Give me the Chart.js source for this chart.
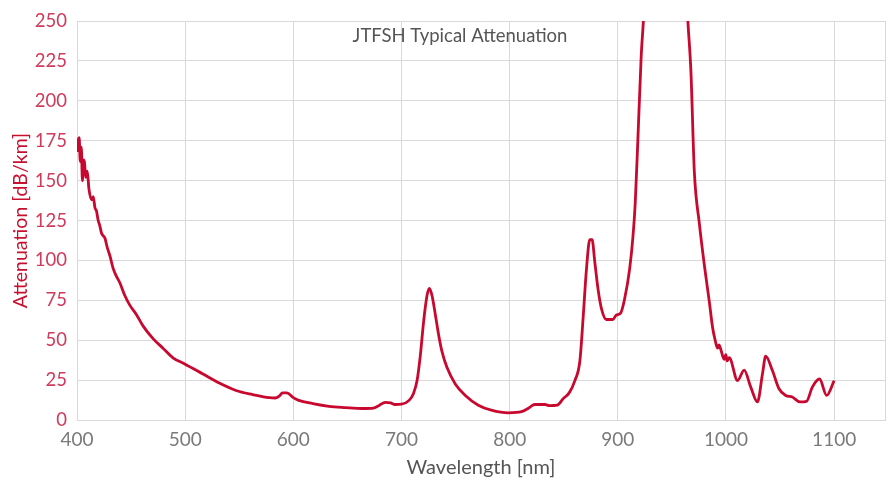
<!DOCTYPE html>
<html>
<head>
<meta charset="utf-8">
<script src="https://cdn.jsdelivr.net/npm/chart.js@4/dist/chart.umd.min.js"></script>
<style>
  html, body { margin: 0; padding: 0; background: #ffffff; }
  #wrap { width: 893px; height: 480px; position: relative; }
</style>
</head>
<body>
<div id="wrap"><canvas id="attenuationChart"></canvas></div>
<script>
/* ============================================
   DATA
   ============================================ */
const chartTitle = 'JTFSH Typical Attenuation';

// Wavelength [nm]
const wavelength = [
  400, 401, 402, 403, 404, 405, 406, 407, 408, 409.5,
  411, 413.5, 415, 416.6, 418, 419.6, 421, 422.7, 425.8, 428,
  430.4, 433.4, 436.5, 439.6, 444.2, 448.8, 455, 461, 470.3, 479.5,
  488.7, 500, 516, 532, 547, 562, 578, 583, 587, 590,
  594, 600, 605, 618, 633, 648, 664, 674, 679, 685,
  690, 694, 700, 707, 711, 714.4, 717.5, 720.5, 723.6, 725.8,
  728.2, 731.3, 734.3, 737.4, 742, 749.7, 759, 771, 783, 799,
  811, 817, 823, 832.6, 837, 844, 849.5, 855, 860.3, 864.9,
  867.9, 871, 874.1, 876.2, 878.7, 881.7, 884.8, 889.4, 895.5, 898.6,
  902.6, 906.3, 910.9, 914, 916.1, 918.6, 921.6, 924, 928, 935,
  945, 955, 962, 964.6, 967.6, 970.7, 975.3, 980, 984.6, 987.6,
  990, 992.2, 993.5, 995.3, 997, 998.4, 999.9, 1001, 1003, 1010.7,
  1016.8, 1022.9, 1029.1, 1033.7, 1036.7, 1042.9, 1049, 1055.2, 1061.3, 1068.4,
  1074.5, 1079.8, 1086.5, 1093, 1100
];

// Attenuation [dB/km]
const attenuation = [
  168, 175, 177, 162, 171, 150, 163, 161, 152, 156,
  145, 138, 140, 133, 131, 125, 122, 117, 114, 108,
  103, 95, 90, 86, 78, 72, 66, 59, 51, 45,
  39, 35, 29, 23, 18.5, 16, 14, 13.8, 15, 17,
  17, 14, 12.3, 10.3, 8.6, 7.8, 7.2, 7.5, 9, 11.1,
  10.7, 9.7, 9.9, 12.3, 16.5, 24.7, 41, 62, 78, 82.5,
  78, 66, 53.5, 43, 33, 22.6, 15.4, 9.3, 6.2, 4.5,
  5.2, 7.2, 9.7, 9.7, 9.0, 9.3, 13.4, 17, 24.7, 37,
  63.8, 94.6, 113, 113, 99, 82, 70, 63, 63, 65.8,
  67, 76, 94.6, 115, 136, 177, 228, 255, 330, 470,
  560, 420, 290, 252, 218, 156, 123.5, 97, 74, 58,
  50, 45, 47, 44, 40, 38, 41, 37, 39, 24.7,
  31.3, 20.6, 11.3, 28.8, 40, 31, 19.6, 15.4, 14.4, 11.3,
  11.7, 20.6, 25.7, 15.4, 24.7
];

// Axis ticks
const xTicks = [400, 500, 600, 700, 800, 900, 1000, 1100];
const yTicks = [0, 25, 50, 75, 100, 125, 150, 175, 200, 225, 250];

const fontFamily = 'Lato, "Open Sans", sans-serif';

/* ============================================
   TITLE PLUGIN (drawn inside the plot area)
   ============================================ */
const innerTitle = {
  id: 'innerTitle',
  afterDraw(chart) {
    const ctx = chart.ctx;
    ctx.save();
    ctx.fillStyle = '#555555';
    ctx.font = '18.5px ' + fontFamily;
    ctx.textAlign = 'center';
    ctx.textBaseline = 'middle';
    ctx.fillText(chartTitle, 460, 36);
    ctx.restore();
  }
};

/* ============================================
   CHART
   ============================================ */
const points = wavelength.map((w, i) => ({ x: w, y: attenuation[i] }));

new Chart(document.getElementById('attenuationChart').getContext('2d'), {
  type: 'line',
  data: {
    datasets: [{
      label: 'Attenuation',
      data: points,
      borderColor: '#c8082f',
      backgroundColor: 'transparent',
      borderWidth: 2.8,
      pointRadius: 0,
      cubicInterpolationMode: 'monotone',
      fill: false
    }]
  },
  options: {
    responsive: true,
    maintainAspectRatio: false,
    animation: false,
    layout: { padding: { top: 15, right: 5, left: 0, bottom: 0 } },
    plugins: {
      legend: { display: false },
      tooltip: { enabled: false }
    },
    scales: {
      x: {
        type: 'linear',
        min: 400,
        max: 1147,
        afterBuildTicks(scale) {
          scale.ticks = xTicks.map(v => ({ value: v })).concat([{ value: 1147 }]);
        },
        afterFit(scale) { scale.height = 60; },
        grid: { color: '#d9d9d9', lineWidth: 1, drawTicks: false },
        border: { color: '#d9d9d9' },
        ticks: {
          color: '#7a7a7a',
          padding: 8,
          maxRotation: 0,
          font: { family: fontFamily, size: 19 },
          callback: v => xTicks.includes(v) ? String(v) : ''
        },
        title: {
          display: true,
          text: 'Wavelength [nm]',
          color: '#555555',
          padding: { top: 0, bottom: 0 },
          font: { family: fontFamily, size: 20 }
        }
      },
      y: {
        type: 'linear',
        min: 0,
        max: 250,
        afterBuildTicks(scale) {
          scale.ticks = yTicks.map(v => ({ value: v }));
        },
        afterFit(scale) { scale.width = 77; },
        grid: { color: '#d9d9d9', lineWidth: 1, drawTicks: false },
        border: { color: '#d9d9d9' },
        ticks: {
          color: '#d03a5c',
          padding: 10,
          font: { family: fontFamily, size: 18.5 }
        },
        title: {
          display: true,
          text: 'Attenuation [dB/km]',
          color: '#c8102e',
          padding: { top: 9, bottom: 0 },
          font: { family: fontFamily, size: 19.5 }
        }
      }
    }
  },
  plugins: [innerTitle]
});
</script>
</body>
</html>
